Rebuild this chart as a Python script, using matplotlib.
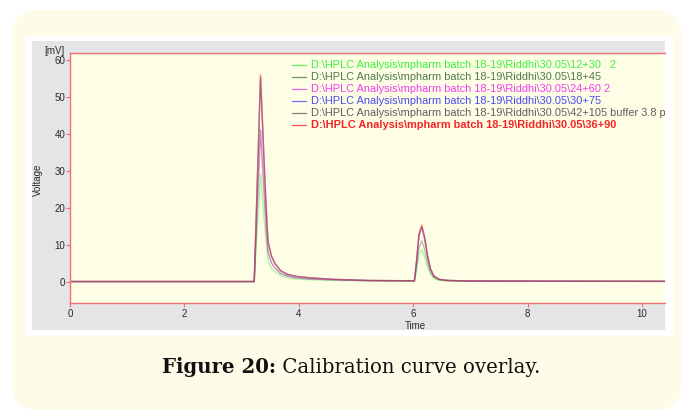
import matplotlib
matplotlib.use("Agg")
import matplotlib.pyplot as plt
from matplotlib.patches import FancyBboxPatch, Rectangle

# ---------------- data ----------------
time = [0.0, 3.0, 3.22, 3.33, 3.36, 3.40, 3.43, 3.46, 3.52, 3.58, 3.68, 3.79, 3.95,
        4.20, 4.60, 5.20, 6.02, 6.06, 6.10, 6.15, 6.20, 6.25, 6.30, 6.36, 6.45,
        6.60, 7.00, 8.5, 10.4]

v_12_30 = [0, 0, 0, 29, 23.3, 15.5, 10.4, 5.7, 3.6, 2.6, 1.6, 1.0, 0.7, 0.5, 0.3, 0.2,
           0.1, 3.3, 7.2, 8.5, 6.7, 3.9, 2.0, 0.85, 0.35, 0.2, 0.1, 0.08, 0.05]
v_18_45 = [0, 0, 0, 41, 33, 22, 14.6, 8.1, 5.1, 3.7, 2.2, 1.5, 1.0, 0.7, 0.45, 0.25,
           0.15, 4.3, 9.3, 11, 8.6, 5.0, 2.5, 1.1, 0.45, 0.2, 0.1, 0.08, 0.05]
v_24_60 = [0, 0, 0, 41, 33, 22, 14.6, 8.1, 5.1, 3.7, 2.2, 1.5, 1.0, 0.7, 0.45, 0.25,
           0.2, 5.7, 12.3, 14.5, 11.4, 6.6, 3.3, 1.4, 0.6, 0.3, 0.15, 0.1, 0.05]
v_30_75 = [0, 0, 0, 55, 44.2, 29.5, 19.6, 10.8, 6.9, 4.9, 2.9, 2.0, 1.4, 1.0, 0.6, 0.3,
           0.2, 5.8, 12.6, 14.8, 11.6, 6.8, 3.4, 1.5, 0.6, 0.3, 0.15, 0.1, 0.05]
v_42_105 = [0, 0, 0, 55.5, 44.6, 29.7, 19.8, 10.9, 6.9, 5.0, 3.0, 2.0, 1.4, 1.0, 0.6, 0.3,
            0.2, 5.9, 12.7, 15.0, 11.8, 6.9, 3.4, 1.5, 0.6, 0.3, 0.15, 0.1, 0.05]
v_36_90 = [0, 0, 0, 56, 45, 30, 20, 11, 7, 5, 3, 2, 1.4, 1.0, 0.6, 0.3,
           0.2, 6, 13, 15.3, 12, 7, 3.5, 1.5, 0.6, 0.3, 0.15, 0.1, 0.05]

labels = [
    "D:\\HPLC Analysis\\mpharm batch 18-19\\Riddhi\\30.05\\12+30   2",
    "D:\\HPLC Analysis\\mpharm batch 18-19\\Riddhi\\30.05\\18+45",
    "D:\\HPLC Analysis\\mpharm batch 18-19\\Riddhi\\30.05\\24+60 2",
    "D:\\HPLC Analysis\\mpharm batch 18-19\\Riddhi\\30.05\\30+75",
    "D:\\HPLC Analysis\\mpharm batch 18-19\\Riddhi\\30.05\\42+105 buffer 3.8 ph",
    "D:\\HPLC Analysis\\mpharm batch 18-19\\Riddhi\\30.05\\36+90",
]
series = [v_12_30, v_18_45, v_24_60, v_30_75, v_42_105, v_36_90]
colors = ["#3cf03c", "#4f7a4f", "#f03cf0", "#4a4af0", "#6a5a60", "#f52525"]
weights = ["normal", "normal", "normal", "normal", "normal", "bold"]

xticks = [0, 2, 4, 6, 8, 10]
yticks = [0, 10, 20, 30, 40, 50, 60]

# ---------------- figure ----------------
W, H = 685, 411
fig = plt.figure(figsize=(W / 100, H / 100), dpi=100)
fig.patch.set_facecolor("white")
T = fig.dpi_scale_trans


def box(x0, y0, x1, y1):
    return (x0 / 100, (H - y1) / 100, (x1 - x0) / 100, (y1 - y0) / 100)


x, y, w, h = box(12, 10, 681, 410)
card = FancyBboxPatch((x, y), w, h, boxstyle="round,pad=0,rounding_size=0.26",
                      transform=T, facecolor="#fefbe8", edgecolor="none", zorder=-10)
fig.add_artist(card)
x, y, w, h = box(26, 36, 673, 336)
fig.add_artist(Rectangle((x, y), w, h, transform=T, facecolor="white",
                         edgecolor="none", zorder=-9))
x, y, w, h = box(32, 41, 665, 330)
fig.add_artist(Rectangle((x, y), w, h, transform=T, facecolor="#e5e5e7",
                         edgecolor="none", zorder=-8))

ax = fig.add_axes([70 / W, (H - 303) / H, (665 - 70) / W, 250 / H])
ax.set_facecolor("#fefee6")
ax.set_xlim(0, 10.4)
ax.set_ylim(-5.8, 61.8)

for s, c in zip(series, colors):
    ax.plot(time, s, color=c, lw=1.0, alpha=0.42)

red = "#f07070"
for side in ["top", "left", "bottom"]:
    ax.spines[side].set_color(red)
    ax.spines[side].set_linewidth(1.0)
ax.spines["right"].set_visible(False)

ax.set_xticks(xticks)
ax.set_yticks(yticks)
ax.tick_params(axis="both", colors=red, labelcolor="#2a2a2a", labelsize=7,
               length=3, width=0.8)
ax.tick_params(axis="x", pad=1.5)
ax.tick_params(axis="y", pad=0.3)
for lab in ax.get_xticklabels() + ax.get_yticklabels():
    lab.set_family("Liberation Sans")

# legend-like block
lx0, lx1, tx = (292 - 70) / 595, (306 - 70) / 595, (311 - 70) / 595
for i, (lab, c, wt) in enumerate(zip(labels, colors, weights)):
    yy = (303 - (65 + i * 12.1)) / 250
    ax.plot([lx0, lx1], [yy, yy], transform=ax.transAxes, color=c, lw=0.9, alpha=0.8)
    ax.text(tx, yy, lab, transform=ax.transAxes, color=c, fontsize=7.9,
            fontweight=wt, va="center", ha="left", clip_on=True,
            family="Liberation Sans")

fig.text(54 / W, (H - 51) / H, "[mV]", fontsize=7, color="#2a2a2a",
         ha="center", va="center", family="Liberation Sans")
fig.text(38 / W, (H - 180) / H, "Voltage", fontsize=7, color="#2a2a2a",
         ha="center", va="center", rotation=90, family="Liberation Sans")
fig.text(415 / W, (H - 326) / H, "Time", fontsize=7, color="#2a2a2a",
         ha="center", va="center", family="Liberation Sans")

# caption
fs = 13.5
cy = (H - 367) / H
t1 = fig.text(0, cy, "Figure 20:", fontsize=fs, fontweight="bold",
              family="DejaVu Serif", va="center", ha="left", color="#111111")
t2 = fig.text(0, cy, " Calibration curve overlay.", fontsize=fs,
              family="DejaVu Serif", va="center", ha="left", color="#111111")
fig.canvas.draw()
r = fig.canvas.get_renderer()
w1 = t1.get_window_extent(r).width
w2 = t2.get_window_extent(r).width
target = 540 - 163
scale = target / (w1 + w2)
fs2 = fs * scale
t1.set_fontsize(fs2)
t2.set_fontsize(fs2)
fig.canvas.draw()
w1 = t1.get_window_extent(r).width
w2 = t2.get_window_extent(r).width
start = 351.5 - (w1 + w2) / 2
t1.set_x(start / W)
t2.set_x((start + w1) / W)

fig.savefig("out.png", dpi=100)
